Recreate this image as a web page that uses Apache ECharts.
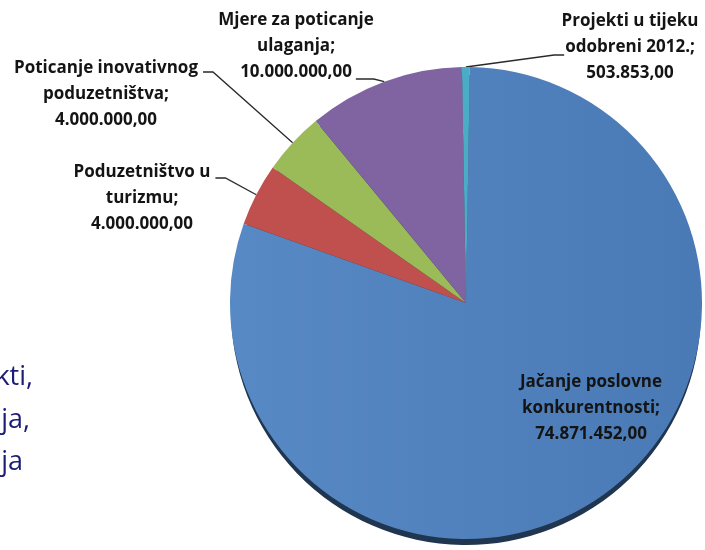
<!DOCTYPE html>
<html>
<head>
<meta charset="utf-8">
<script src="https://cdn.jsdelivr.net/npm/echarts@6/dist/echarts.min.js"></script>
<style>
html,body{margin:0;padding:0;background:#fff;}
#chart{width:705px;height:550px;}
</style>
</head>
<body>
<div id="chart"></div>
<script>
// Data
var categories = [
  "Projekti u tijeku\nodobreni 2012.;",
  "Jačanje poslovne\nkonkurentnosti;",
  "Poduzetništvo u\nturizmu;",
  "Poticanje inovativnog\npoduzetništva;",
  "Mjere za poticanje\nulaganja;"
];
var values = [503853, 74871452, 4000000, 4000000, 10000000];
var colors = ["#4BACC6", "#4F81BD", "#C0504D", "#9BBB59", "#8064A2"];
var sideTextLines = ["kti,", "ja,", "ja"];

function fmt(v) {
  var parts = v.toFixed(2).split(".");
  return parts[0].replace(/\B(?=(\d{3})+(?!\d))/g, ".") + "," + parts[1];
}
function labelText(i) {
  return categories[i] + "\n" + fmt(values[i]);
}

var FONT_SIZE = 17, LINE_H = 26, FONT_FAMILY = 'Open Sans';
// label block centres
var labelPos = [[630, 47], [591, 408], [142, 198], [106, 94], [296, 46]];
// leader attachment: side, line index, y offset, gap from text, horizontal dash length
var leader = [
  {side: 'left', line: 1, dy: 8, gap: 1, dash: 10},
  null,
  {side: 'right', line: 0, dy: 6, gap: 5, dash: 10},
  {side: 'right', line: 0, dy: 4, gap: 5, dash: 10},
  {side: 'right', line: 2, dy: 7, gap: 4, dash: 18}
];

var measureCtx = document.createElement('canvas').getContext('2d');
measureCtx.font = 'bold ' + FONT_SIZE + 'px "' + FONT_FAMILY + '"';
function lineWidth(s) { return measureCtx.measureText(s).width; }

var chart = echarts.init(document.getElementById('chart'));
var mainData = categories.map(function (c, i) {
  return {
    name: c,
    value: values[i],
    itemStyle: {
      color: i === 1 ? new echarts.graphic.LinearGradient(0, 0, 1, 0, [
        {offset: 0, color: '#5789C4'},
        {offset: 1, color: '#4A7AB5'}
      ]) : colors[i]
    },
    labelLine: {show: i !== 1}
  };
});
var shadowData = categories.map(function (c, i) {
  return {name: c, value: values[i]};
});

chart.setOption({
  backgroundColor: '#ffffff',
  animation: false,
  graphic: sideTextLines.map(function (t, i) {
    return {
      type: 'text',
      x: [33, 30, 23][i],
      y: [377, 420, 462][i],
      style: {
        text: t,
        fill: '#1C1C76',
        font: '27px "Open Sans"',
        textAlign: 'right',
        textVerticalAlign: 'middle'
      }
    };
  }),
  series: [
    {
      type: 'pie',
      silent: true,
      center: [466, 310],
      radius: 235,
      startAngle: 91,
      clockwise: true,
      z: 1,
      label: {show: false},
      labelLine: {show: false},
      itemStyle: {color: '#1F3550', borderWidth: 0},
      data: shadowData
    },
    {
      type: 'pie',
      center: [466, 303],
      radius: 236,
      startAngle: 91,
      clockwise: true,
      z: 2,
      avoidLabelOverlap: false,
      itemStyle: {borderWidth: 0},
      label: {
        show: true,
        position: 'outside',
        color: '#141414',
        fontFamily: FONT_FAMILY,
        fontWeight: 'bold',
        fontSize: FONT_SIZE,
        lineHeight: LINE_H,
        align: 'center',
        formatter: function (p) { return labelText(p.dataIndex); }
      },
      labelLine: {
        show: true,
        length: 15,
        length2: 15,
        lineStyle: {color: '#2a2a2a', width: 1.3}
      },
      labelLayout: function (params) {
        var i = params.dataIndex;
        var p = labelPos[i];
        var out = {x: p[0], y: p[1], align: 'center', verticalAlign: 'middle'};
        var cfg = leader[i];
        if (cfg && params.labelLinePoints) {
          var lines = labelText(i).split("\n");
          var n = lines.length;
          var w = lineWidth(lines[cfg.line]);
          var yL = p[1] + (cfg.line - (n - 1) / 2) * LINE_H + cfg.dy;
          var endX = cfg.side === 'right' ? p[0] + w / 2 + cfg.gap : p[0] - w / 2 - cfg.gap;
          var elbowX = cfg.side === 'right' ? endX + cfg.dash : endX - cfg.dash;
          var start = params.labelLinePoints[0];
          out.labelLinePoints = [[start[0], start[1]], [elbowX, yL], [endX, yL]];
        }
        return out;
      },
      data: mainData
    }
  ]
});
</script>
</body>
</html>
